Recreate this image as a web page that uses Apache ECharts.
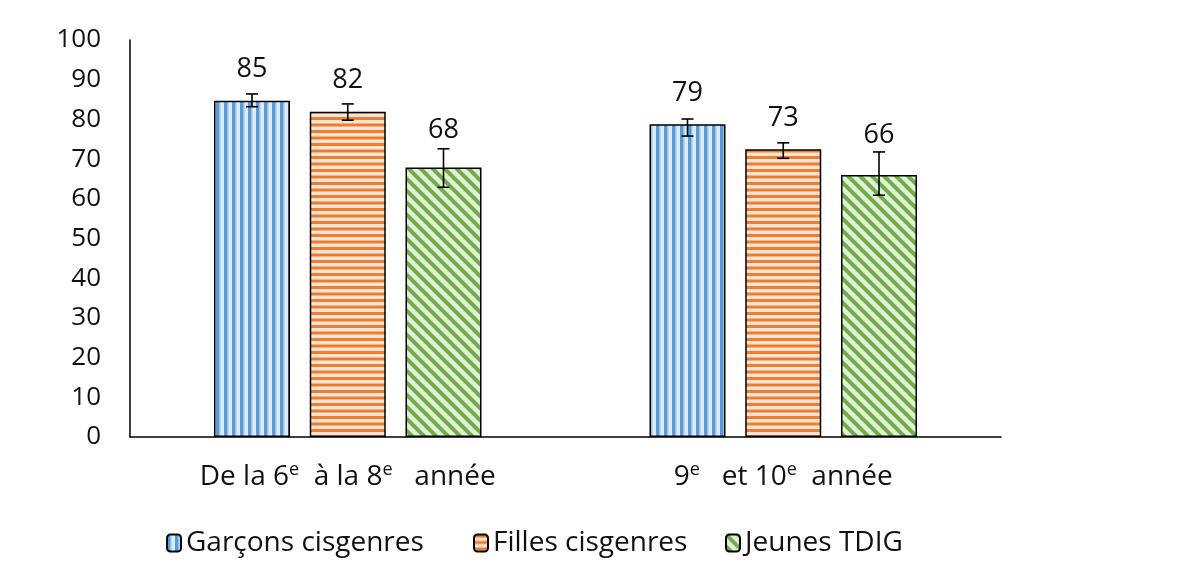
<!DOCTYPE html>
<html>
<head>
<meta charset="utf-8">
<script src="https://cdn.jsdelivr.net/npm/echarts@6/dist/echarts.min.js"></script>
<style>html,body{margin:0;padding:0;background:#fff}#c{width:1200px;height:574px}</style>
</head>
<body>
<div id="c"></div>
<script>
// ---- data ----
const categories = ['De la 6e à la 8e année', '9e et 10e année'];
const seriesNames = ['Garçons cisgenres', 'Filles cisgenres', 'Jeunes TDIG'];
const garcons = [84.7, 78.8];
const filles = [81.9, 72.5];
const tdig = [67.9, 66.0];
const garconsLow = [83.2, 75.8];
const garconsHigh = [86.4, 80.1];
const fillesLow = [79.8, 70.2];
const fillesHigh = [83.9, 74.1];
const tdigLow = [62.9, 60.9];
const tdigHigh = [72.6, 71.8];
const yTicks = [0, 10, 20, 30, 40, 50, 60, 70, 80, 90, 100];

// ---- patterns ----
function makePattern(kind) {
  const c = document.createElement('canvas');
  const ctx = c.getContext('2d');
  if (kind === 'v') {
    c.width = 8; c.height = 8;
    ctx.fillStyle = '#dcebf8'; ctx.fillRect(0, 0, 8, 8);
    ctx.fillStyle = '#5b9bd5'; ctx.fillRect(0, 0, 3.5, 8);
    ctx.fillStyle = '#9dc3e6'; ctx.fillRect(3.5, 0, 1, 8);
  } else if (kind === 'h') {
    c.width = 13; c.height = 13;
    ctx.fillStyle = '#fce4d3'; ctx.fillRect(0, 0, 13, 13);
    ctx.fillStyle = '#ed7d31';
    ctx.fillRect(0, 0, 13, 3); ctx.fillRect(0, 6.5, 13, 3);
  } else {
    c.width = 12; c.height = 12;
    ctx.fillStyle = '#e2f0d9'; ctx.fillRect(0, 0, 12, 12);
    ctx.strokeStyle = '#70ad47'; ctx.lineWidth = 4;
    for (let k = -12; k <= 12; k += 12) {
      ctx.beginPath(); ctx.moveTo(k - 2, -2); ctx.lineTo(k + 14, 14); ctx.stroke();
    }
  }
  return { image: c, repeat: 'repeat' };
}
const patterns = [makePattern('v'), makePattern('h'), makePattern('d')];

const BAR_W = 0.1745;
const BAR_GAP = 0.26;
const values = [garcons, filles, tdig];
const lows = [garconsLow, fillesLow, tdigLow];
const highs = [garconsHigh, fillesHigh, tdigHigh];

const errData = [];
for (let s = 0; s < 3; s++) {
  for (let c = 0; c < categories.length; c++) {
    errData.push([c, lows[s][c], highs[s][c], Math.round(values[s][c]), s, values[s][c]]);
  }
}

const TXT = '#111';
const FONT = '"Open Sans"';

const chart = echarts.init(document.getElementById('c'), null, { renderer: 'canvas' });

const barSeries = seriesNames.map((n, i) => ({
  name: n,
  type: 'bar',
  data: values[i],
  barWidth: (BAR_W * 100) + '%',
  barGap: (BAR_GAP * 100) + '%',
  itemStyle: { color: patterns[i], borderColor: '#000', borderWidth: 1.5 },
  emphasis: { disabled: true },
  animation: false
}));

function renderErr(params, api) {
  const cat = api.value(0), si = api.value(4);
  const band = api.size([1, 0])[0];
  const w = band * BAR_W, g = w * BAR_GAP;
  const off = (si - 1) * (w + g);
  const hi = api.coord([cat, api.value(2)]);
  const lo = api.coord([cat, api.value(1)]);
  const top = api.coord([cat, api.value(5)]);
  const x = hi[0] + off;
  const cap = 6;
  const st = { stroke: '#000', lineWidth: 1.6 };
  const ly = ((top[1] - 33) + (hi[1] - 23)) / 2;
  return {
    type: 'group',
    children: [
      { type: 'line', shape: { x1: x, y1: hi[1], x2: x, y2: lo[1] }, style: st },
      { type: 'line', shape: { x1: x - cap, y1: hi[1], x2: x + cap, y2: hi[1] }, style: st },
      { type: 'line', shape: { x1: x - cap, y1: lo[1], x2: x + cap, y2: lo[1] }, style: st },
      { type: 'text', style: { text: String(api.value(3)), x: x, y: ly, align: 'center', verticalAlign: 'middle', fill: TXT, font: '27px ' + FONT } }
    ]
  };
}

const xLabelRich = {
  n: { fontSize: 28, fontFamily: FONT, color: TXT, lineHeight: 32 },
  s: { fontSize: 18, fontFamily: FONT, color: TXT, lineHeight: 18, verticalAlign: 'top' }
};
function xLabel(v, i) {
  if (i === 0) return '{n|De la 6}{s|e}{n|  à la 8}{s|e}{n|   année}';
  return '{n|9}{s|e}{n|   et 10}{s|e}{n|  année}';
}

const legendLefts = [161, 468, 720];
const legends = seriesNames.map((n, i) => ({
  data: [n],
  left: legendLefts[i], top: 524,
  itemWidth: 14, itemHeight: 17,
  textStyle: { fontSize: 28, fontFamily: FONT, color: TXT },
  selectedMode: false
}));

chart.setOption({
  animation: false,
  backgroundColor: '#fff',
  grid: { left: 130, right: 199, top: 40, bottom: 137, containLabel: false },
  xAxis: {
    type: 'category',
    data: categories,
    axisLine: { lineStyle: { color: '#000', width: 1.5 } },
    axisTick: { show: false },
    axisLabel: { margin: 24, formatter: xLabel, rich: xLabelRich }
  },
  yAxis: {
    type: 'value',
    min: yTicks[0], max: yTicks[yTicks.length - 1], interval: 10,
    axisLine: { show: true, lineStyle: { color: '#000', width: 1.5 } },
    axisTick: { show: false },
    splitLine: { show: false },
    axisLabel: { margin: 29, fontSize: 26, fontFamily: FONT, color: TXT }
  },
  legend: legends,
  series: barSeries.concat([{
    type: 'custom',
    renderItem: renderErr,
    data: errData,
    encode: { x: 0, y: [1, 2] },
    z: 10,
    silent: true
  }])
});
</script>
</body>
</html>
